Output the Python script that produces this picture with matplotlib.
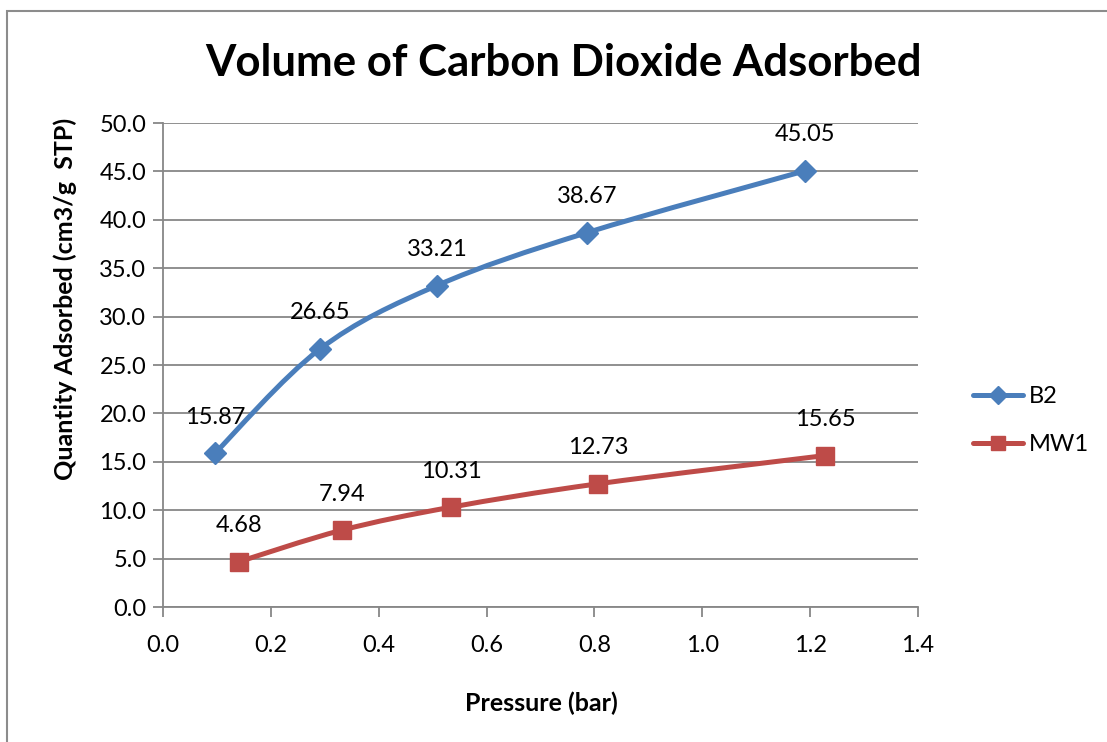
import matplotlib
matplotlib.use("Agg")
import matplotlib.pyplot as plt
import numpy as np
from matplotlib.path import Path
from matplotlib.patches import PathPatch, Rectangle
from matplotlib.lines import Line2D

plt.rcParams['font.family'] = ['Lato', 'DejaVu Sans']

# CO2 uptake measurements
b2_pressure = [0.096, 0.291, 0.508, 0.786, 1.190]
b2_volume = [15.87, 26.65, 33.21, 38.67, 45.05]
mw1_pressure = [0.141, 0.332, 0.534, 0.807, 1.228]
mw1_volume = [4.68, 7.94, 10.31, 12.73, 15.65]

blue = '#4A7EBB'
red = '#BE4B48'
grid_col = '#878787'


def smooth_path(xs, ys):
    # Catmull-Rom style bezier through the points (like a spreadsheet "smoothed line")
    pts = np.column_stack([xs, ys])
    n = len(pts)
    verts = [pts[0]]
    codes = [Path.MOVETO]
    for i in range(n - 1):
        p0 = pts[i - 1] if i > 0 else pts[i]
        p1 = pts[i]
        p2 = pts[i + 1]
        p3 = pts[i + 2] if i + 2 < n else pts[i + 1]
        c1 = p1 + (p2 - p0) / 6.0
        c2 = p2 - (p3 - p1) / 6.0
        verts += [c1, c2, p2]
        codes += [Path.CURVE4] * 3
    return Path(verts, codes)


W, H = 1107, 742
fig = plt.figure(figsize=(W / 100, H / 100), dpi=100)
ax = fig.add_axes([163 / W, 1 - 607 / H, 755 / W, 484 / H])

# outer chart frame (only top/left visible)
fig.patches.append(Rectangle((7 / W, -0.05), 1.2, 1 - 11 / H + 0.05,
                             transform=fig.transFigure, fill=False,
                             edgecolor='#8c8c8c', linewidth=1.5))

ax.set_xlim(0, 1.4)
ax.set_ylim(0, 50)
ax.set_xticks(np.arange(0, 1.41, 0.2))
ax.set_yticks(np.arange(0, 50.1, 5))
ax.xaxis.set_major_formatter(matplotlib.ticker.FormatStrFormatter('%.1f'))
ax.yaxis.set_major_formatter(matplotlib.ticker.FormatStrFormatter('%.1f'))
ax.tick_params(axis='both', direction='out', length=7, width=1.3, color=grid_col,
               labelsize=17, pad=5)
ax.tick_params(axis='x', pad=13)
ax.grid(axis='y', color=grid_col, linewidth=1.3)
ax.set_axisbelow(True)
for s in ['top', 'right']:
    ax.spines[s].set_visible(False)
for s in ['left', 'bottom']:
    ax.spines[s].set_color(grid_col)
    ax.spines[s].set_linewidth(1.3)

series = [
    ('B2', b2_pressure, b2_volume, blue, 'D', 11),
    ('MW1', mw1_pressure, mw1_volume, red, 's', 13),
]
handles = []
for name, xs, ys, col, mk, ms in series:
    ax.add_patch(PathPatch(smooth_path(xs, ys), fill=False, edgecolor=col,
                           linewidth=3.6, capstyle='round', zorder=3))
    ax.plot(xs, ys, linestyle='none', marker=mk, markersize=ms, color=col, zorder=4)
    for x, y in zip(xs, ys):
        ax.annotate(f'{y:.2f}', (x, y), xytext=(0, 26), textcoords='offset points',
                    ha='center', va='center', fontsize=17)
    handles.append(Line2D([], [], color=col, linewidth=3.6, marker=mk,
                          markersize=ms * 0.8, solid_capstyle='round', label=name))

leg = ax.legend(handles=handles, loc='center left', bbox_to_anchor=(1.045, 0.385),
                frameon=False, fontsize=17, handlelength=2.1, labelspacing=1.15,
                handletextpad=0.25)

fig.text(541 / W, 1 - 703 / H, 'Pressure (bar)', ha='center', va='center',
         fontsize=18, fontweight='bold')
fig.text(65 / W, 1 - 299 / H, 'Quantity Adsorbed (cm3/g  STP)', ha='center', va='center',
         rotation=90, fontsize=18, fontweight='bold')
fig.text(563 / W, 1 - 63 / H, 'Volume of Carbon Dioxide Adsorbed',
         ha='center', va='center', fontsize=31.5, fontweight='bold')

fig.savefig('out.png', dpi=100)
